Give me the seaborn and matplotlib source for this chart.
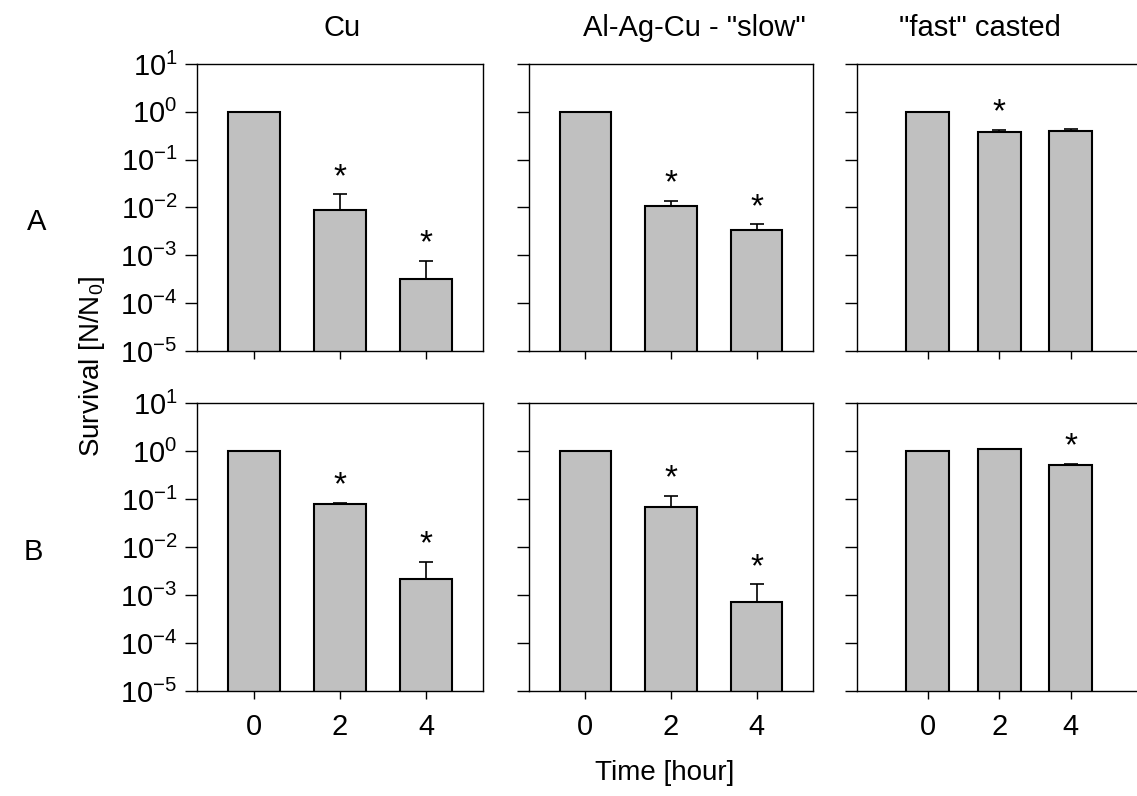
import numpy as np
import pandas as pd
import matplotlib
matplotlib.use("Agg")
import matplotlib.pyplot as plt
import seaborn as sns
from matplotlib.ticker import FixedLocator, FuncFormatter, NullLocator

sns.set_theme(style="ticks")
plt.rcParams["font.family"] = ["Liberation Sans", "DejaVu Sans"]
plt.rcParams["mathtext.fontset"] = "custom"
plt.rcParams["mathtext.rm"] = "Liberation Sans"
plt.rcParams["mathtext.it"] = "Liberation Sans:italic"
plt.rcParams["mathtext.bf"] = "Liberation Sans:bold"
for key in ["text.color", "axes.labelcolor", "xtick.color", "ytick.color",
            "axes.edgecolor"]:
    plt.rcParams[key] = "black"

# ---- data -------------------------------------------------------------
times = ["0", "2", "4"]
materials = ["Cu", 'Al-Ag-Cu - "slow"', '"fast" casted']
rows = ["A", "B"]

# mean survival N/N0 and upper end of the error bar (NaN = no bar)
surv_A_cu = [1.0, 0.0089, 3.2e-4]
err_A_cu = [np.nan, 0.019, 7.7e-4]
star_A_cu = [False, True, True]

surv_A_slow = [1.0, 0.0109, 0.00344]
err_A_slow = [np.nan, 0.0139, 0.00446]
star_A_slow = [False, True, True]

surv_A_fast = [1.0, 0.38, 0.40]
err_A_fast = [np.nan, 0.42, 0.43]
star_A_fast = [False, True, False]

surv_B_cu = [1.0, 0.079, 0.00212]
err_B_cu = [np.nan, 0.084, 0.00494]
star_B_cu = [False, True, True]

surv_B_slow = [1.0, 0.069, 7.1e-4]
err_B_slow = [np.nan, 0.117, 0.00167]
star_B_slow = [False, True, True]

surv_B_fast = [1.0, 1.08, 0.51]
err_B_fast = [np.nan, 1.12, 0.54]
star_B_fast = [False, False, True]

panels = [
    [(surv_A_cu, err_A_cu, star_A_cu),
     (surv_A_slow, err_A_slow, star_A_slow),
     (surv_A_fast, err_A_fast, star_A_fast)],
    [(surv_B_cu, err_B_cu, star_B_cu),
     (surv_B_slow, err_B_slow, star_B_slow),
     (surv_B_fast, err_B_fast, star_B_fast)],
]

# ---- layout (pixels) --------------------------------------------------
W, H = 1137, 796
fig = plt.figure(figsize=(W / 100, H / 100), dpi=100, facecolor="white")

col_x = [(197, 483), (529, 813), (857, 1143)]
row_y = [(64, 351), (403, 691)]
col_xlim = [(-0.657, 2.657), (-0.657, 2.657), (-0.99, 3.01)]


def rect(x0, x1, y0, y1):
    return [x0 / W, 1 - y1 / H, (x1 - x0) / W, (y1 - y0) / H]


decades = [10.0 ** k for k in range(-5, 2)]
fmt = FuncFormatter(lambda v, p: r"$\mathregular{10^{%d}}$" % int(round(np.log10(v))))

for r in range(2):
    for c in range(3):
        surv, err, star = panels[r][c]
        ax = fig.add_axes(rect(col_x[c][0], col_x[c][1], row_y[r][0], row_y[r][1]))
        ax.set_yscale("log")
        df = pd.DataFrame({"time": times, "survival": surv})
        sns.barplot(data=df, x="time", y="survival", order=times,
                    color="#c0c0c0", saturation=1, edgecolor="black",
                    linewidth=1.5, width=0.6, errorbar=None, ax=ax)

        idx = np.arange(len(times))
        s = np.asarray(surv, dtype=float)
        e = np.asarray(err, dtype=float)
        has = ~np.isnan(e)
        ax.errorbar(idx[has], s[has],
                    yerr=[np.zeros(has.sum()), e[has] - s[has]],
                    fmt="none", ecolor="black", elinewidth=1.2,
                    capsize=5, capthick=1.2, zorder=1)

        for i in idx:
            if star[i]:
                top = e[i] if has[i] else s[i]
                ax.annotate("*", xy=(i, top), xytext=(0, 6),
                            textcoords="offset points", ha="center",
                            va="baseline", fontsize=24, color="black")

        ax.set_ylim(1e-5, 10)
        ax.set_xlim(*col_xlim[c])
        ax.yaxis.set_major_locator(FixedLocator(decades))
        ax.yaxis.set_minor_locator(NullLocator())
        ax.yaxis.set_major_formatter(fmt)
        ax.set_xlabel("")
        ax.set_ylabel("")
        for sp in ax.spines.values():
            sp.set_visible(True)
            sp.set_color("black")
            sp.set_linewidth(1.0)
        ax.tick_params(axis="y", direction="out", length=9, width=1,
                       color="black", labelsize=21, pad=5,
                       left=True, labelleft=(c == 0))
        ax.tick_params(axis="x", direction="out", length=6, width=1,
                       color="black", labelsize=21, pad=10,
                       bottom=True, labelbottom=(r == 1))
        ax.set_facecolor("white")

# ---- titles and labels ------------------------------------------------
title_x = [342, 694, 980]
for name, x in zip(materials, title_x):
    fig.text(x / W, 1 - 28 / H, name, ha="center", va="center", fontsize=21)

fig.text(37 / W, 1 - 222 / H, rows[0], ha="center", va="center", fontsize=21)
fig.text(33 / W, 1 - 552 / H, rows[1], ha="center", va="center", fontsize=21)

fig.text(92 / W, 1 - 366 / H, r"Survival [N/N$\mathregular{_0}$]",
         rotation=90, ha="center", va="center", fontsize=20)
fig.text(665 / W, 1 - 773 / H, "Time [hour]", ha="center", va="center",
         fontsize=20)

fig.savefig("out.png", dpi=100, facecolor="white")
